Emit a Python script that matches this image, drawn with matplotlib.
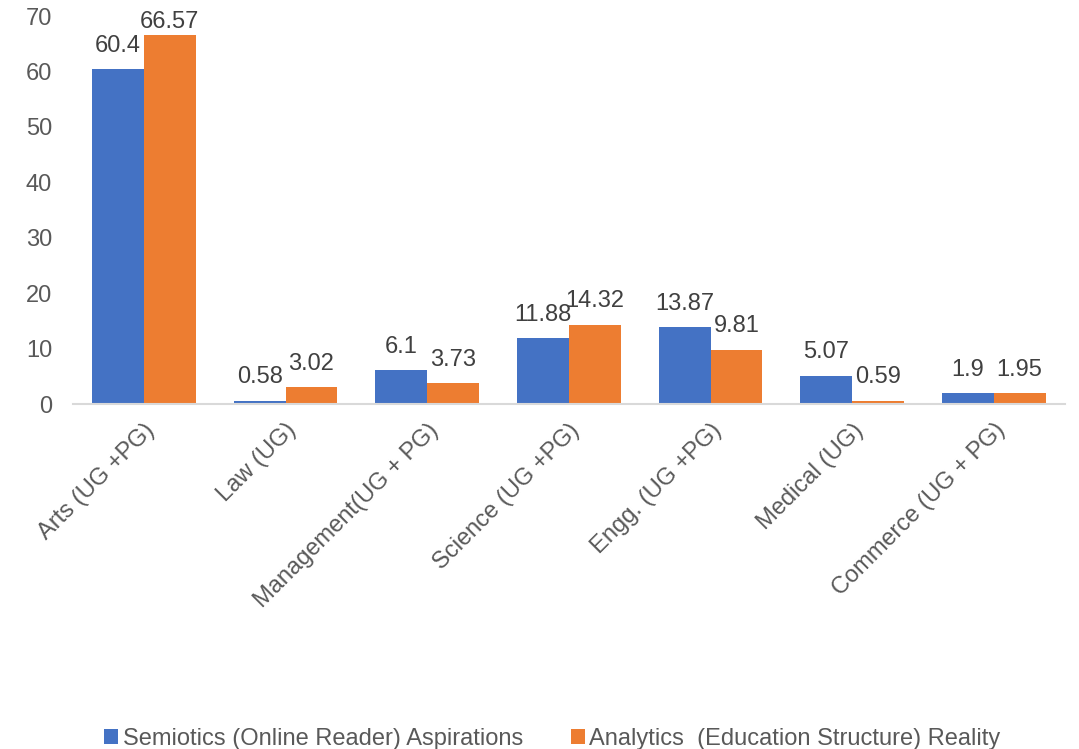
import matplotlib.pyplot as plt
import numpy as np

plt.rcParams['font.family'] = ['Liberation Sans', 'DejaVu Sans']

categories = ['Arts (UG +PG)', 'Law (UG)', 'Management(UG + PG)', 'Science (UG +PG)',
              'Engg. (UG +PG)', 'Medical (UG)', 'Commerce (UG + PG)']
aspirations = [60.4, 0.58, 6.1, 11.88, 13.87, 5.07, 1.9]
reality = [66.57, 3.02, 3.73, 14.32, 9.81, 0.59, 1.95]
series_names = ['Semiotics (Online Reader) Aspirations',
                'Analytics  (Education Structure) Reality']

fig = plt.figure(figsize=(10.79, 7.49), dpi=100)
ax = fig.add_axes([0.0677, 0.4606, 0.919, 0.518])

x = np.arange(len(categories))
w = 0.365
b1 = ax.bar(x - w / 2, aspirations, w, color='#4472C4', label=series_names[0])
b2 = ax.bar(x + w / 2, reality, w, color='#ED7D31', label=series_names[1])

ymax = 70
for bars, vals in ((b1, aspirations), (b2, reality)):
    for bar, v in zip(bars, vals):
        # labels near the top get pushed down so they stay inside the figure
        off = 9 if v < ymax - 6 else 1.5
        ax.annotate(f'{v:g}', (bar.get_x() + bar.get_width() / 2, v),
                    xytext=(0, off), textcoords='offset points',
                    ha='center', va='bottom', fontsize=17, color='#404040')

ax.set_xlim(-0.5, len(categories) - 0.5)
ax.set_ylim(0, ymax)
ax.set_yticks(range(0, ymax + 1, 10))
ax.set_xticks(x)
ax.set_xticklabels(categories, rotation=45, ha='right', rotation_mode='anchor')
ax.tick_params(axis='both', length=0, labelsize=17, labelcolor='#595959')
ax.tick_params(axis='y', pad=15)
ax.tick_params(axis='x', pad=11)
for s in ('top', 'right', 'left'):
    ax.spines[s].set_visible(False)
ax.spines['bottom'].set_color('#D9D9D9')
ax.spines['bottom'].set_linewidth(1.5)

fig.legend(loc='lower center', bbox_to_anchor=(0.512, -0.03), ncol=2, frameon=False,
           fontsize=17, labelcolor='#595959', handlelength=0.6, handleheight=0.6,
           handletextpad=0.2, columnspacing=2.0)

fig.savefig('out.png', dpi=100)
